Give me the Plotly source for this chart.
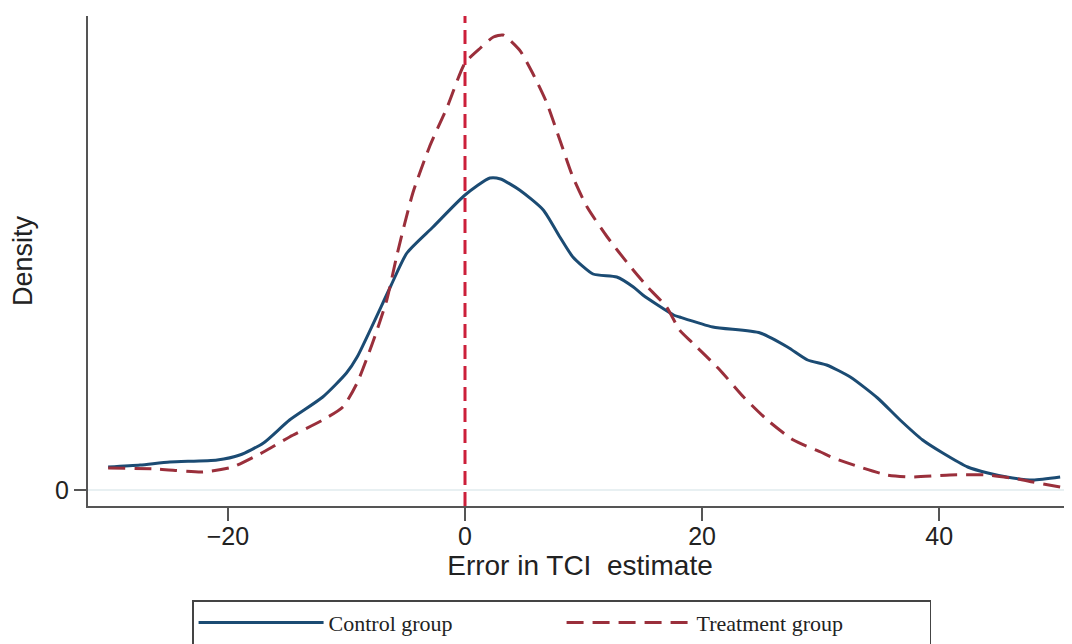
import plotly.graph_objects as go

# Control group kernel density
control_x = [-30.1, -27.4, -24.9, -20.9, -19.0, -17.0, -14.8, -12.0, -10.0, -9.1,
             -6.3, -4.9, -2.7, 0.0, 2.1, 3.0, 4.6, 6.6, 8.0, 9.1,
             10.8, 12.8, 14.2, 15.0, 17.6, 18.1, 20.9, 24.9, 27.2, 28.9,
             30.5, 32.5, 34.8, 36.7, 38.6, 40.3, 42.4, 44.1, 45.7, 47.9, 50.2]
control_y = [0.0023, 0.0025, 0.0028, 0.0030, 0.0035, 0.0047, 0.0070, 0.0093, 0.0117, 0.0133,
             0.0203, 0.0237, 0.0263, 0.0295, 0.0312, 0.0311, 0.0300, 0.0280, 0.0253, 0.0233,
             0.0216, 0.0213, 0.0203, 0.0195, 0.0175, 0.0173, 0.0163, 0.0157, 0.0143, 0.0130,
             0.0125, 0.0113, 0.0092, 0.0070, 0.0050, 0.0037, 0.0023, 0.0017, 0.0013, 0.0010, 0.0013]

# Treatment group kernel density
treat_x = [-30.1, -26.0, -22.1, -19.6, -17.0, -14.8, -12.0, -10.3, -9.1, -7.8,
           -6.6, -5.7, -4.4, -3.0, -1.5, 0.0, 1.3, 2.4, 3.2, 4.6,
           5.7, 6.9, 8.0, 9.1, 10.3, 12.0, 13.7, 15.4, 17.0, 18.1,
           19.2, 21.5, 23.5, 25.5, 27.7, 30.0, 31.1, 33.3, 35.6, 37.6,
           40.9, 44.1, 46.6, 47.9, 50.2]
treat_y = [0.0022, 0.0021, 0.0018, 0.0023, 0.0038, 0.0053, 0.0070, 0.0083, 0.0107, 0.0147,
           0.0190, 0.0237, 0.0297, 0.0343, 0.0383, 0.0427, 0.0442, 0.0453, 0.0455, 0.0440,
           0.0417, 0.0387, 0.0350, 0.0313, 0.0283, 0.0253, 0.0227, 0.0203, 0.0183, 0.0160,
           0.0147, 0.0120, 0.0093, 0.0070, 0.0050, 0.0038, 0.0032, 0.0023, 0.0015, 0.0013,
           0.0015, 0.0015, 0.0011, 0.0008, 0.0003]

x_ticks = [-20, 0, 20, 40]
x_tick_labels = ["\u221220", "0", "20", "40"]
y_ticks = [0]
y_tick_labels = ["0"]

fig = go.Figure()
fig.add_trace(go.Scatter(x=control_x, y=control_y, mode="lines", name="Control group",
                         line=dict(color="#1b4b73", width=3, shape="spline", smoothing=0.6)))
fig.add_trace(go.Scatter(x=treat_x, y=treat_y, mode="lines", name="Treatment group",
                         line=dict(color="#9a2f3b", width=3, dash="17px,9px", shape="spline", smoothing=0.6)))

fig.add_shape(type="line", xref="x", yref="paper", x0=0, x1=0, y0=0, y1=1,
              line=dict(color="#cc1f3a", width=3, dash="14px,7px"))

# page body has an 8px margin, so the figure is sized to the remaining window
fig.update_layout(
    width=1064, height=636,
    margin=dict(l=80, r=0, t=8, b=138),
    paper_bgcolor="white", plot_bgcolor="white",
    font=dict(family="Liberation Sans, Arial", color="#222222"),
    showlegend=True,
    legend=dict(orientation="h", xref="container", yref="container",
                x=0.173, y=0.069, xanchor="left", yanchor="top",
                font=dict(family="Liberation Serif, Times New Roman", size=22, color="#222222"),
                bordercolor="#444444", borderwidth=1.5, bgcolor="white",
                itemwidth=125,
                entrywidth=228, entrywidthmode="pixels"),
    xaxis=dict(range=[-31.8, 51.2], tickvals=x_ticks, ticktext=x_tick_labels,
               showline=True, linecolor="#555555", linewidth=2, ticks="outside",
               ticklen=13, tickwidth=2, tickcolor="#555555", showgrid=False, zeroline=False,
               tickfont=dict(size=25), ticklabelstandoff=-6,
               title=dict(text="Error in TCI\u00a0 estimate", font=dict(size=28), standoff=2)),
    yaxis=dict(range=[-0.0016, 0.0474], tickvals=y_ticks, ticktext=y_tick_labels,
               showline=True, linecolor="#555555", linewidth=2, ticks="outside",
               ticklen=12, tickwidth=2, tickcolor="#555555", showgrid=True,
               gridcolor="#e8f0f2", gridwidth=2, zeroline=False,
               tickfont=dict(size=25),
               title=dict(text="Density", font=dict(size=27), standoff=22)),
)

fig.write_html("out.html")
